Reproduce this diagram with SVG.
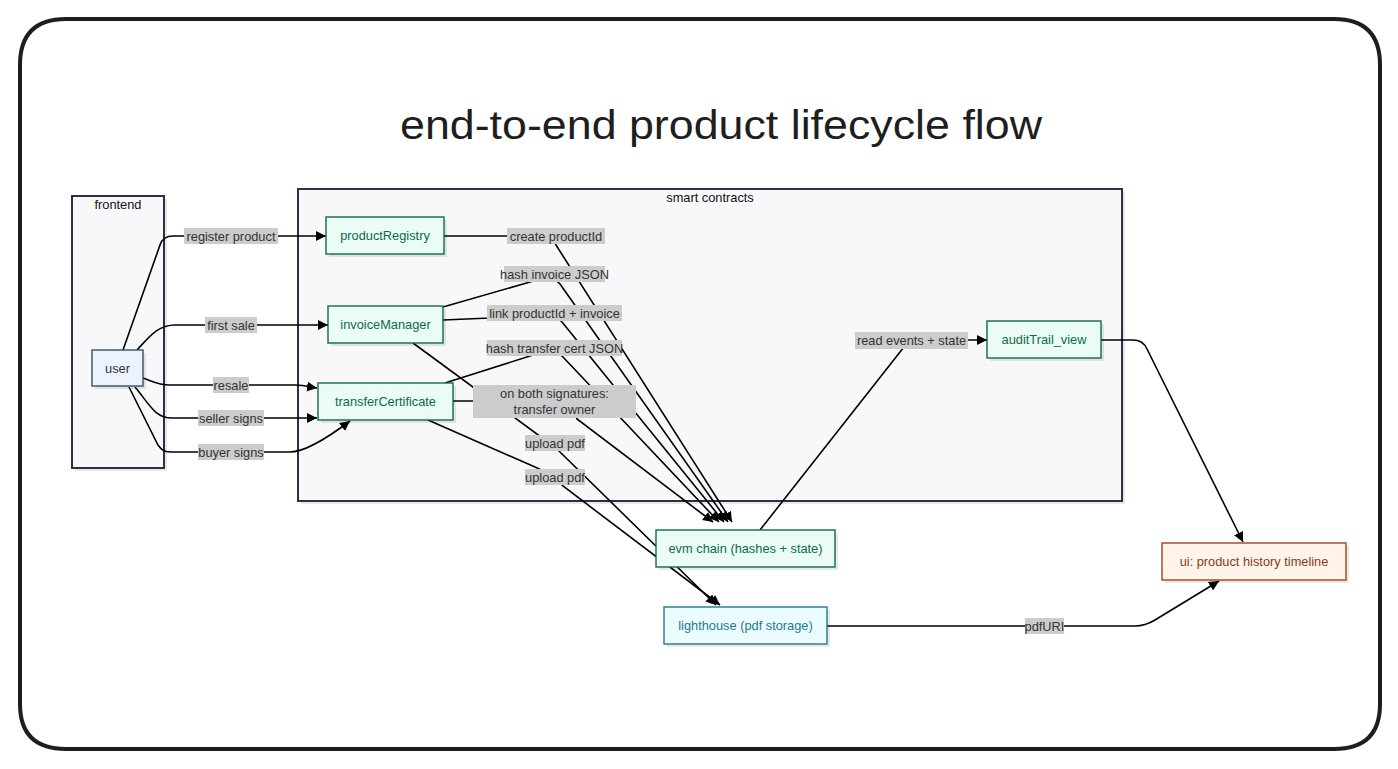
<svg xmlns="http://www.w3.org/2000/svg" width="1398" height="769" viewBox="0 0 1398 769">
<style>
text{font-family:"Liberation Sans",Arial,sans-serif;font-size:12.8px;text-anchor:middle}
.title{font-size:40px;fill:#1e1e1e}
.cl{fill:#f8f8fb;stroke:#2e2e44;stroke-width:2}
.clt{fill:#111}
.sh{fill:#000;fill-opacity:0.09}
.mint{fill:#ebfcf4;stroke:#0d6b4d;stroke-width:1.4}
.mintt{fill:#0d6b4d}
.usr{fill:#edf3fe;stroke:#3c4a6a;stroke-width:1.4}
.usrt{fill:#333}
.cyan{fill:#eafcfe;stroke:#1f7a8c;stroke-width:1.4}
.cyant{fill:#1f7a8c}
.org{fill:#fff4ea;stroke:#a0431c;stroke-width:1.4}
.orgt{fill:#8a3a1a}
.e{fill:none;stroke:#000;stroke-width:1.6}
.ea{fill:none;stroke:#000;stroke-width:1.6;marker-end:url(#arr)}
.lb{fill:#cccccc}
.lt{fill:#333}
</style>
<defs>
<marker id="arr" viewBox="0 0 10 10" refX="10" refY="5" markerWidth="10" markerHeight="10" markerUnits="userSpaceOnUse" orient="auto">
<path d="M0,0 L10,5 L0,10 z" fill="#000"/>
</marker>
</defs>
<rect width="1398" height="769" fill="#fff"/>
<path d="M66,19 L1334,19 Q1380,19 1380,65 L1380,704 Q1380,749 1334,749 L66,749 Q20,749 20,704 L20,65 Q20,19 66,19 Z" fill="none" stroke="#1e1e1e" stroke-width="4"/>
<text class="title" x="721" y="139" textLength="642" lengthAdjust="spacingAndGlyphs">end-to-end product lifecycle flow</text>

<g id="cluster-frontend">
<rect class="sh" x="75" y="199" width="92" height="272"/>
<rect class="cl" x="72" y="196" width="92" height="272"/>
<text class="clt" x="118" y="209">frontend</text>
</g>
<g id="cluster-smart-contracts">
<rect class="sh" x="301" y="192" width="824" height="312"/>
<rect class="cl" x="298" y="189" width="824" height="312"/>
<text class="clt" x="710" y="202">smart contracts</text>
</g>

<g id="connectors">
<path class="ea" d="M123,350 L160,245 Q163,236 173,236 L326,236"/>
<path class="ea" d="M137,350 C150,336 158,325 175,325 L328,325"/>
<path class="ea" d="M143,378 C152,381 158,385 170,385 L295,385 C305,385 310,387 317,388"/>
<path class="ea" d="M135,387 C150,405 155,418 172,418 L317,418"/>
<path class="ea" d="M129,387 L158,445 C162,451 165,452 172,452 L290,452 C305,452 330,436 350,421"/>
<path class="ea" d="M444,236 L545,236 Q552,236 556,245 L732,522"/>
<path class="ea" d="M443,307 L530,282 Q552,274 560,284 L728,522"/>
<path class="ea" d="M443,320 L490,318 Q555,313 562,322 L724,522"/>
<path class="ea" d="M445,383 L530,356 Q555,348 563,357 L719,522"/>
<path class="ea" d="M453,401 L555,401 Q572,403 577,419 L713,522"/>
<path class="ea" d="M413,343 L545,440 Q555,446 560,452 L716,605"/>
<path class="ea" d="M428,420 L535,467 Q552,474 563,486 L720,605"/>
<path class="ea" d="M760,530 L900,352 Q908,340 920,340 L987,340"/>
<path class="ea" d="M1101,340 L1133,340 Q1143,340 1147,349 L1243,542"/>
<path class="ea" d="M827,626 L1135,626 Q1145,626 1155,620 L1219,581"/>
</g>

<g id="edge-labels">
<rect class="lb" x="184" y="228" width="94" height="16"/><text class="lt" x="231" y="240.5">register product</text>
<rect class="lb" x="205" y="317" width="52" height="16"/><text class="lt" x="231" y="329.5">first sale</text>
<rect class="lb" x="213" y="377" width="36" height="16"/><text class="lt" x="231" y="389.5">resale</text>
<rect class="lb" x="198" y="410" width="66" height="16"/><text class="lt" x="231" y="422.5">seller signs</text>
<rect class="lb" x="198" y="444" width="66" height="16"/><text class="lt" x="231" y="456.5">buyer signs</text>
<rect class="lb" x="507" y="228" width="98" height="16"/><text class="lt" x="556" y="240.5">create productId</text>
<rect class="lb" x="504" y="266" width="101" height="16"/><text class="lt" x="554.5" y="278.5">hash invoice JSON</text>
<rect class="lb" x="487" y="305" width="135" height="16"/><text class="lt" x="554.5" y="317.5">link productId + invoice</text>
<rect class="lb" x="487" y="340" width="135" height="16"/><text class="lt" x="554.5" y="352.5">hash transfer cert JSON</text>
<rect class="lb" x="473" y="385" width="163" height="33"/><text class="lt" x="554.5" y="397.5">on both signatures:</text><text class="lt" x="554.5" y="414">transfer owner</text>
<rect class="lb" x="525" y="435" width="60" height="16"/><text class="lt" x="555" y="447.5">upload pdf</text>
<rect class="lb" x="525" y="469" width="60" height="16"/><text class="lt" x="555" y="481.5">upload pdf</text>
<rect class="lb" x="855" y="332" width="113" height="17"/><text class="lt" x="911.5" y="345">read events + state</text>
<rect class="lb" x="1025" y="618" width="39" height="16"/><text class="lt" x="1044.5" y="630.5">pdfURI</text>
</g>

<g id="node-user">
<rect class="sh" x="95" y="353" width="51" height="36"/>
<rect class="usr" x="92" y="350" width="51" height="36"/>
<text class="usrt" x="117.5" y="372.5">user</text>
</g>
<g id="node-productRegistry">
<rect class="sh" x="329" y="220" width="118" height="37"/>
<rect class="mint" x="326" y="217" width="118" height="37"/>
<text class="mintt" x="385" y="240">productRegistry</text>
</g>
<g id="node-invoiceManager">
<rect class="sh" x="331" y="309" width="115" height="37"/>
<rect class="mint" x="328" y="306" width="115" height="37"/>
<text class="mintt" x="385.5" y="329">invoiceManager</text>
</g>
<g id="node-transferCertificate">
<rect class="sh" x="321" y="386" width="135" height="37"/>
<rect class="mint" x="318" y="383" width="135" height="37"/>
<text class="mintt" x="385.5" y="406">transferCertificate</text>
</g>
<g id="node-auditTrail_view">
<rect class="sh" x="990" y="324" width="114" height="37"/>
<rect class="mint" x="987" y="321" width="114" height="37"/>
<text class="mintt" x="1044" y="344">auditTrail_view</text>
</g>
<g id="node-evm">
<rect class="sh" x="659" y="533" width="179" height="37"/>
<rect class="mint" x="656" y="530" width="179" height="37"/>
<text class="mintt" x="745.5" y="553">evm chain (hashes + state)</text>
</g>
<g id="node-lighthouse">
<rect class="sh" x="667" y="610" width="163" height="37"/>
<rect class="cyan" x="664" y="607" width="163" height="37"/>
<text class="cyant" x="745.5" y="630">lighthouse (pdf storage)</text>
</g>
<g id="node-ui">
<rect class="sh" x="1165" y="546" width="184" height="37"/>
<rect class="org" x="1162" y="543" width="184" height="37"/>
<text class="orgt" x="1254" y="566">ui: product history timeline</text>
</g>
</svg>
